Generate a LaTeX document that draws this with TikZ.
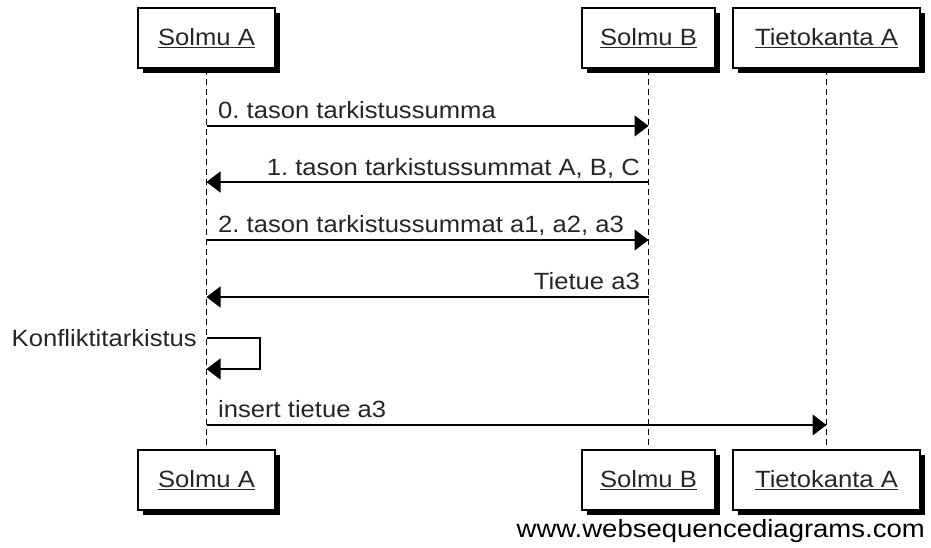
\documentclass[tikz,border=0pt]{standalone}
\usepackage{graphicx}
\usepackage{fontspec}
\setmainfont{Liberation Sans}
\usetikzlibrary{arrows.meta,shadows}
\frenchspacing

% text of the diagram is set slightly wide
\newcommand\widetext[1]{\scalebox{1.09}[1]{#1}}

\tikzset{
  actor/.style={draw=black, line width=1.3pt, fill=white, minimum height=60pt,
    inner sep=0pt, text=black!85,
    font=\fontsize{23.5}{27}\selectfont,
    drop shadow={shadow xshift=5pt, shadow yshift=-5pt, fill=black, opacity=1}},
  lifeline/.style={draw=black, line width=1.6pt, dash pattern=on 6pt off 4pt},
  msg/.style={draw=black, line width=1.4pt,
    -{Triangle[length=14pt,width=21pt]}},
  msgtext/.style={inner sep=0pt, text=black!85, font=\fontsize{23.5}{27}\selectfont},
}

\begin{document}
\begin{tikzpicture}[x=1pt,y=-1pt]
  \useasboundingbox (0,0) rectangle (931,547);

  % participants, top row
  \node[actor, minimum width=137pt] (topA) at (206.5,38) {\widetext{\underline{Solmu A}}};
  \node[actor, minimum width=133pt] (topB) at (648.5,38) {\widetext{\underline{Solmu B}}};
  \node[actor, minimum width=187pt] (topT) at (826.5,38) {\widetext{\underline{Tietokanta A}}};

  % participants, bottom row
  \node[actor, minimum width=137pt] (botA) at (206.5,480) {\widetext{\underline{Solmu A}}};
  \node[actor, minimum width=133pt] (botB) at (648.5,480) {\widetext{\underline{Solmu B}}};
  \node[actor, minimum width=187pt] (botT) at (826.5,480) {\widetext{\underline{Tietokanta A}}};

  % lifelines
  \draw[lifeline] (topA.south) -- (botA.north);
  \draw[lifeline] (topB.south) -- (botB.north);
  \draw[lifeline] (topT.south) -- (botT.north);

  % message end points on the lifelines
  \coordinate (a1) at (206.5,126); \coordinate (b1) at (648.5,126);
  \coordinate (a2) at (206.5,182); \coordinate (b2) at (648.5,182);
  \coordinate (a3) at (206.5,240); \coordinate (b3) at (648.5,240);
  \coordinate (a4) at (206.5,297); \coordinate (b4) at (648.5,297);
  \coordinate (a5) at (206.5,338); \coordinate (a6) at (206.5,369);
  \coordinate (a7) at (206.5,425); \coordinate (t7) at (826.5,425);

  % messages
  \draw[msg] (a1) -- (b1);
  \node[msgtext, anchor=base west] (m1) at (218,118) {\widetext{0. tason tarkistussumma}};

  \draw[msg] (b2) -- (a2);
  \node[msgtext, anchor=base east] (m2) at (640,175) {\widetext{1. tason tarkistussummat A, B, C}};

  \draw[msg] (a3) -- (b3);
  \node[msgtext, anchor=base west] (m3) at (218,232) {\widetext{2. tason tarkistussummat a1, a2, a3}};

  \draw[msg] (b4) -- (a4);
  \node[msgtext, anchor=base east] (m4) at (640,289) {\widetext{Tietue a3}};

  % self message
  \draw[msg] (a5) -| (260,353.5) |- (a6);
  \node[msgtext, anchor=base east] (m5) at (197,346) {\widetext{Konfliktitarkistus}};

  \draw[msg] (a7) -- (t7);
  \node[msgtext, anchor=base west] (m6) at (218,417) {\widetext{insert tietue a3}};

  % footer
  \node[msgtext, anchor=base east, text=black, font=\fontsize{25}{29}\selectfont]
    (credit) at (925,537) {\scalebox{1.1}[1]{www.websequencediagrams.com}};
\end{tikzpicture}
\end{document}
